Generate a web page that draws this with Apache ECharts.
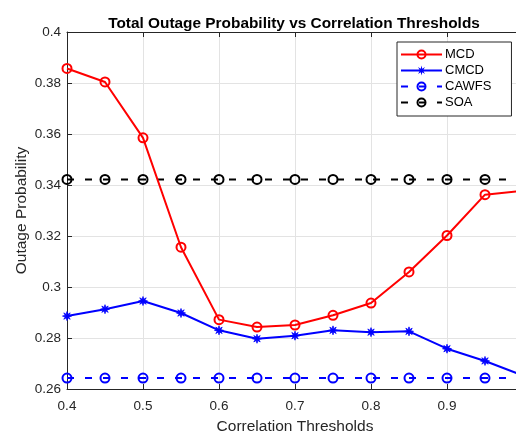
<!DOCTYPE html>
<html>
<head>
<meta charset="utf-8">
<script src="https://cdn.jsdelivr.net/npm/echarts@6/dist/echarts.min.js"></script>
<style>
html,body{margin:0;padding:0;background:#fff;}
#chart{width:516px;height:436px;}
</style>
</head>
<body>
<div id="chart"></div>
<script>
// ---- data ----
const thresholds = [0.4, 0.45, 0.5, 0.55, 0.6, 0.65, 0.7, 0.75, 0.8, 0.85, 0.9, 0.95, 1.0];
const mcd   = [0.3857, 0.3804, 0.3585, 0.3156, 0.2872, 0.2843, 0.2851, 0.2889, 0.2937, 0.3059, 0.3202, 0.3362, 0.3377];
const cmcd  = [0.2886, 0.2913, 0.2945, 0.2898, 0.2830, 0.2797, 0.2809, 0.2830, 0.2823, 0.2826, 0.2758, 0.2710, 0.2653];
const cawfs = [0.2643, 0.2643, 0.2643, 0.2643, 0.2643, 0.2643, 0.2643, 0.2643, 0.2643, 0.2643, 0.2643, 0.2643, 0.2643];
const soa   = [0.3422, 0.3422, 0.3422, 0.3422, 0.3422, 0.3422, 0.3422, 0.3422, 0.3422, 0.3422, 0.3422, 0.3422, 0.3422];
const seriesNames = ['MCD', 'CMCD', 'CAWFS', 'SOA'];
const titleText = 'Total Outage Probability vs Correlation Thresholds';
const xName = 'Correlation Thresholds';
const yName = 'Outage Probability';

// ---- helpers ----
function pairs(vals) { return thresholds.map((x, i) => [x, vals[i]]); }
function starPts(cx, cy, ro, ri) {
  const pts = [];
  const n = 8;
  for (let i = 0; i < n * 2; i++) {
    const a = Math.PI * i / n - Math.PI / 2;
    const r = i % 2 === 0 ? ro : ri;
    pts.push((cx + r * Math.cos(a)).toFixed(2) + ' ' + (cy + r * Math.sin(a)).toFixed(2));
  }
  return 'M' + pts.join(' L') + ' Z';
}
const asteriskSymbol = 'path://' + starPts(10, 10, 10, 4);
// legend icon: line + asterisk, bbox 0..41 x 0..10
const asteriskLegendIcon = 'path://M0 3.9 L41 3.9 L41 6.1 L0 6.1 Z ' + starPts(20.5, 5, 5, 2);

const FONT = '"Liberation Sans", Arial, Helvetica, sans-serif';
const AX = '#262626';
const DASH = [7, 11];

const chart = echarts.init(document.getElementById('chart'), null, {renderer: 'canvas'});
const option = {
  animation: false,
  backgroundColor: '#fff',
  textStyle: {fontFamily: FONT},
  title: {
    text: titleText,
    left: 289, textAlign: 'center', top: 11,
    textStyle: {fontFamily: FONT, fontSize: 15.4, fontWeight: 'bold', color: '#000'}
  },
  legend: {
    orient: 'vertical',
    left: 397, top: 42,
    itemWidth: 41, itemHeight: 10, itemGap: 3,
    padding: [6, 20, 7, 3],
    borderColor: AX, borderWidth: 1,
    backgroundColor: '#fff',
    textStyle: {fontFamily: FONT, fontSize: 13, lineHeight: 12, color: '#000', padding: [0, 0, 0, -2]},
    data: [
      {name: seriesNames[0]},
      {name: seriesNames[1], icon: asteriskLegendIcon,
        itemStyle: {color: '#0000ff', borderWidth: 0, borderColor: 'rgba(0,0,0,0)'},
        lineStyle: {width: 0}},
      {name: seriesNames[2]},
      {name: seriesNames[3]}
    ]
  },
  grid: {left: 67, right: -7, top: 32, bottom: 47, containLabel: false, outerBoundsMode: 'none'},
  xAxis: [{
    type: 'value', min: 0.4, max: 1.0, interval: 0.1,
    name: xName, nameLocation: 'middle', nameGap: 30, nameMoveOverlap: false,
    nameTextStyle: {fontFamily: FONT, fontSize: 15.5, color: AX},
    axisLine: {show: true, onZero: false, lineStyle: {color: AX, width: 1}},
    axisTick: {show: true, inside: true, length: 5, lineStyle: {color: AX}},
    axisLabel: {fontFamily: FONT, fontSize: 13.5, color: AX, margin: 10},
    splitLine: {show: true, lineStyle: {color: '#e3e3e3', width: 1}}
  }, {
    type: 'value', min: 0.4, max: 1.0, interval: 0.1, position: 'top',
    axisLine: {show: true, onZero: false, lineStyle: {color: AX, width: 1}},
    axisTick: {show: true, inside: true, length: 5, lineStyle: {color: AX}},
    axisLabel: {show: false},
    splitLine: {show: false}
  }],
  yAxis: {
    type: 'value', min: 0.26, max: 0.4, interval: 0.02,
    name: yName, nameLocation: 'middle', nameGap: 37, nameMoveOverlap: false,
    nameTextStyle: {fontFamily: FONT, fontSize: 15.5, color: AX},
    axisLine: {show: true, onZero: false, lineStyle: {color: AX, width: 1}},
    axisTick: {show: true, inside: true, length: 5, lineStyle: {color: AX}},
    axisLabel: {fontFamily: FONT, fontSize: 13.5, color: AX, margin: 6,
      formatter: v => String(parseFloat(v.toFixed(2)))},
    splitLine: {show: true, lineStyle: {color: '#e3e3e3', width: 1}}
  },
  series: [
    {
      name: seriesNames[0], type: 'line', data: pairs(mcd),
      symbol: 'circle', symbolSize: 9,
      lineStyle: {color: '#ff0000', width: 2},
      itemStyle: {color: 'rgba(0,0,0,0)', borderColor: '#ff0000', borderWidth: 2},
      z: 4
    },
    {
      name: seriesNames[1], type: 'line', data: pairs(cmcd),
      symbol: asteriskSymbol, symbolSize: 9,
      lineStyle: {color: '#0000ff', width: 2},
      itemStyle: {color: '#0000ff', borderColor: '#0000ff', borderWidth: 0.8},
      z: 3
    },
    {
      name: seriesNames[2], type: 'line', data: pairs(cawfs),
      symbol: 'circle', symbolSize: 9,
      lineStyle: {color: '#0000ff', width: 2, type: DASH},
      itemStyle: {color: 'rgba(0,0,0,0)', borderColor: '#0000ff', borderWidth: 2},
      z: 2
    },
    {
      name: seriesNames[3], type: 'line', data: pairs(soa),
      symbol: 'circle', symbolSize: 9,
      lineStyle: {color: '#000000', width: 2, type: DASH},
      itemStyle: {color: 'rgba(0,0,0,0)', borderColor: '#000000', borderWidth: 2},
      z: 2
    }
  ]
};
chart.setOption(option);
</script>
</body>
</html>
